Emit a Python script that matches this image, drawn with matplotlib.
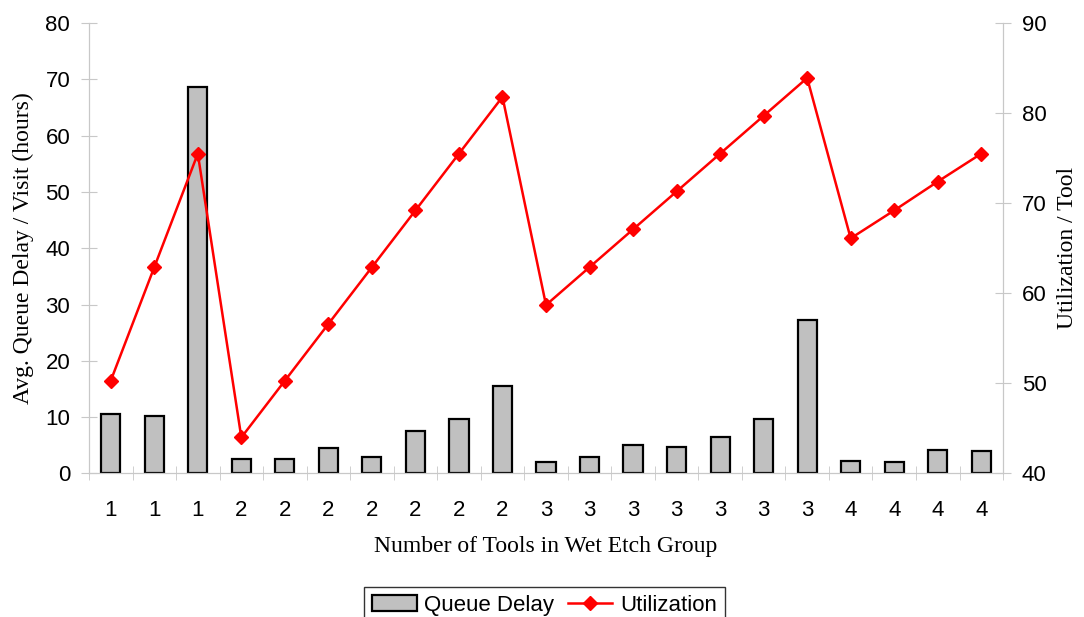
import numpy as np
import matplotlib.pyplot as plt

tools = ['1', '1', '1', '2', '2', '2', '2', '2', '2', '2',
         '3', '3', '3', '3', '3', '3', '3', '4', '4', '4', '4']
queue_delay = [10.5, 10.2, 68.7, 2.5, 2.5, 4.5, 3.0, 7.5, 9.6, 15.5,
               2.0, 3.0, 5.0, 4.7, 6.4, 9.6, 27.2, 2.2, 2.1, 4.2, 4.0]
utilization = [50.3, 62.9, 75.5, 44.0, 50.3, 56.6, 62.9, 69.2, 75.5, 81.8,
               58.7, 62.9, 67.1, 71.3, 75.5, 79.7, 83.9, 66.1, 69.2, 72.4, 75.5]

x = np.arange(len(tools))
gray = '#c8c8c8'

fig = plt.figure(figsize=(10.84, 6.17), dpi=100)
ax = fig.add_axes([0.0821, 0.2326, 0.8432, 0.7301])
ax2 = ax.twinx()

bars = ax.bar(x, queue_delay, width=0.44, color='#c0c0c0', edgecolor='black',
              linewidth=1.6, label='Queue Delay', zorder=2)
line, = ax2.plot(x, utilization, color='red', lw=1.8, marker='D', ms=7.5,
                 mec='red', mfc='red', label='Utilization')

ax.set_xlim(-0.5, len(tools) - 0.5)
ax.set_ylim(0, 80)
ax.set_yticks(range(0, 81, 10))
ax2.set_ylim(40, 90)
ax2.set_yticks(range(40, 91, 10))

ax.set_xticks(x)
ax.set_xticklabels(tools)
ax.set_xticks(np.arange(-0.5, len(tools), 1), minor=True)
ax.tick_params(axis='x', which='major', length=0, pad=19)
ax.tick_params(axis='x', which='minor', length=10, direction='inout', color=gray)
ax.tick_params(axis='y', length=11, direction='inout', color=gray, pad=8)
ax2.tick_params(axis='y', length=11, direction='inout', color=gray, pad=8)

for a in (ax, ax2):
    for s in a.spines.values():
        s.set_color(gray)
    a.spines['top'].set_visible(False)
    for lbl in a.get_xticklabels() + a.get_yticklabels():
        lbl.set_fontfamily('Liberation Sans')
        lbl.set_fontsize(16)

serif = {'family': 'Liberation Serif', 'fontsize': 17}
ax.set_xlabel('Number of Tools in Wet Etch Group', va='center', **serif)
ax.xaxis.set_label_coords(0.5, -0.162)
ax.set_ylabel('Avg. Queue Delay / Visit (hours)', va='center', **serif)
ax.yaxis.set_label_coords(-0.072, 0.5)
ax2.set_ylabel('Utilization / Tool', va='center', **serif)
ax2.yaxis.set_label_coords(1.070, 0.5)

leg = fig.legend([bars, line], ['Queue Delay', 'Utilization'], ncol=2,
                 loc='upper center', bbox_to_anchor=(0.5023, 1 - 587 / 617),
                 frameon=True, fancybox=False, edgecolor='black',
                 prop={'family': 'Liberation Sans', 'size': 16},
                 handlelength=2.0, columnspacing=0.6, handletextpad=0.35,
                 borderpad=0.35, borderaxespad=0)
leg.get_frame().set_linewidth(1.0)

fig.savefig('out.png', dpi=100)
